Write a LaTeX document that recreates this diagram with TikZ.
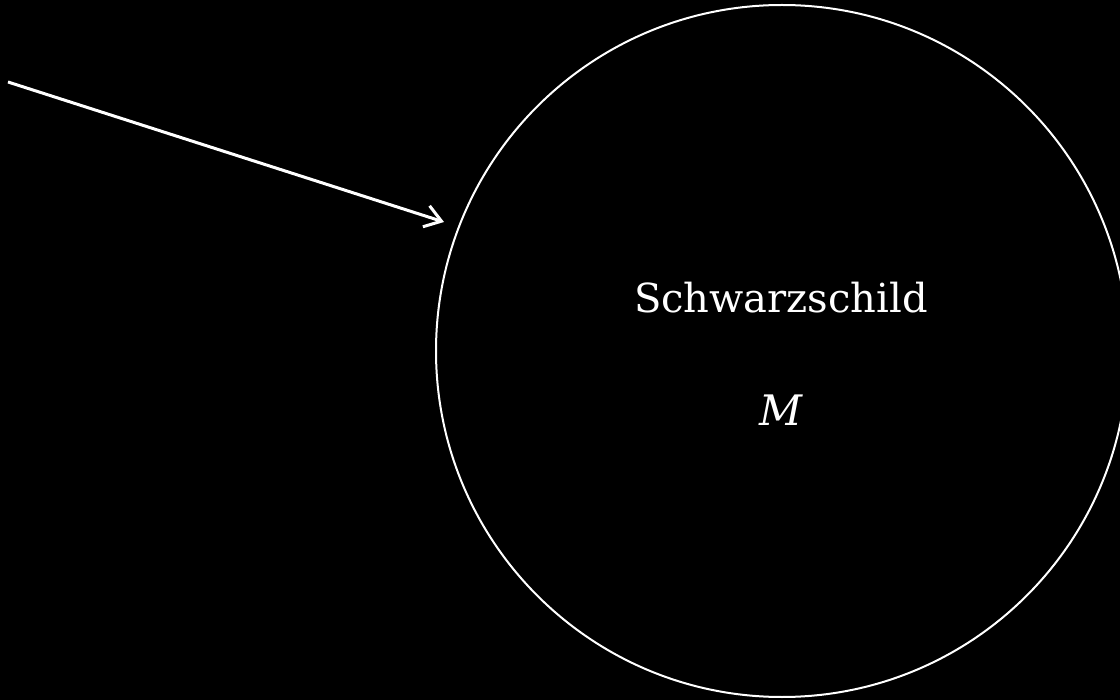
\documentclass[tikz,border=0pt]{standalone}
\usepackage{fontspec}
\setmainfont{DejaVu Serif}
\usetikzlibrary{arrows.meta,positioning}

\begin{document}
\begin{tikzpicture}[x=0.5pt,y=-0.5pt,>={Straight Barb[length=8pt,width=11pt,line width=1.5pt]}]
    \fill[black] (0,0) rectangle (1120,700);
    \useasboundingbox (0,0) rectangle (1120,700);

    \node[draw=white,line width=1pt,circle,minimum size=346pt,inner sep=0pt] (hole) at (782,351) {};
    \node[white,font=\fontsize{20}{24}\selectfont] (name) at (781,298) {Schwarzschild};
    \node[white,font=\fontsize{21}{24}\selectfont\itshape] (mass) at (781,410) {M};

    \coordinate (src) at (8,82);
    \coordinate (tip) at (444,222);
    \draw[->,white,line width=1.5pt] (src) -- (tip);
  \end{tikzpicture}
\end{document}
